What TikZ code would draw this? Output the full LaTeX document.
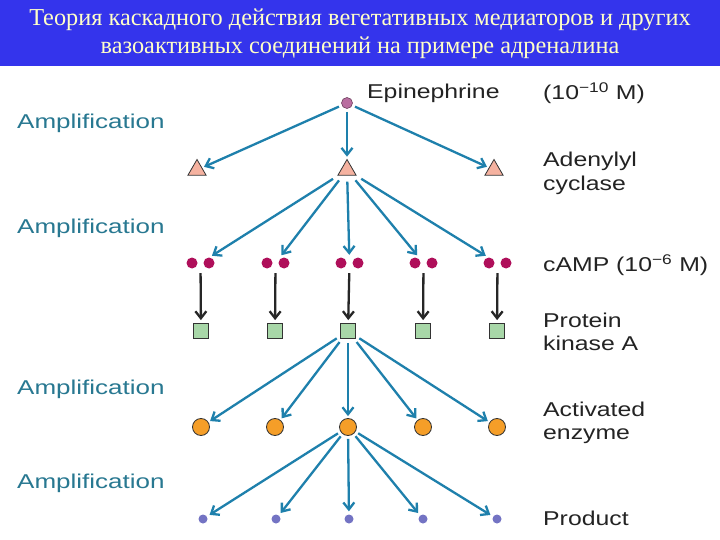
\documentclass[tikz,border=0pt]{standalone}
\usepackage{fontspec}
\setmainfont{Liberation Serif}
\newfontfamily\labfont[FakeStretch=1.24]{Liberation Sans}
\newfontfamily\ampfont[FakeStretch=1.3]{Liberation Sans}
\usetikzlibrary{arrows.meta,shapes.geometric}
\definecolor{titlebg}{RGB}{52,52,236}
\definecolor{titlefg}{RGB}{255,255,200}
\definecolor{arr}{RGB}{30,128,172}
\definecolor{ampl}{RGB}{40,120,145}
\definecolor{epic}{RGB}{185,110,160}
\definecolor{tric}{RGB}{245,178,160}
\definecolor{campc}{RGB}{175,15,90}
\definecolor{sqc}{RGB}{168,215,168}
\definecolor{orc}{RGB}{245,158,40}
\definecolor{prc}{RGB}{115,115,195}
\definecolor{txt}{RGB}{35,35,35}
\tikzset{
  tarrow/.style={draw=arr, line width=2.3pt, -{Straight Barb[length=7pt,width=11pt,line width=2.3pt]}, shorten >=2pt, shorten <=3pt},
  karrow/.style={draw=black!85, line width=2.3pt, -{Straight Barb[length=7pt,width=11pt,line width=2.3pt]}, shorten >=3pt, shorten <=2pt},
  epinode/.style={circle, fill=epic, draw=epic!60!black, line width=0.6pt, minimum size=11pt, inner sep=0pt},
  trinode/.style={regular polygon, regular polygon sides=3, fill=tric, draw=black!80, line width=0.8pt, minimum size=21pt, inner sep=0pt},
  campdot/.style={circle, fill=campc, minimum size=11pt, inner sep=0pt},
  camppair/.style={rectangle, minimum width=28pt, minimum height=12pt, inner sep=0pt},
  sqnode/.style={rectangle, fill=sqc, draw=black!80, line width=0.8pt, minimum size=15pt, inner sep=0pt},
  ornode/.style={circle, fill=orc, draw=black!80, line width=0.8pt, minimum size=17pt, inner sep=0pt},
  prnode/.style={circle, fill=prc, minimum size=9pt, inner sep=0pt},
  lab/.style={anchor=west, text=txt, font=\labfont\fontsize{20}{23.5}\selectfont, align=left, inner sep=0pt},
  amp/.style={anchor=west, text=ampl, font=\ampfont\fontsize{20}{23.5}\selectfont, inner sep=0pt},
  ttl/.style={text=titlefg, font=\fontsize{24.3}{28}\selectfont, inner sep=0pt}
}
\begin{document}
\begin{tikzpicture}[x=1pt,y=-1pt]
\useasboundingbox (0,0) rectangle (720,540);
\fill[white] (0,0) rectangle (720,540);
\fill[titlebg] (0,0) rectangle (720,66);
\node[ttl] (t1) at (360,20) {Теория каскадного действия вегетативных медиаторов и других};
\node[ttl] (t2) at (360,48) {вазоактивных соединений на примере адреналина};

% labels
\node[amp] (a1) at (17,123) {Amplification};
\node[amp] (a2) at (17,228) {Amplification};
\node[amp] (a3) at (17,389) {Amplification};
\node[amp] (a4) at (17,483) {Amplification};

\node[lab] (l0) at (367,93) {Epinephrine};
\node[lab] (l0b) at (543,93) {(10\textsuperscript{−10} M)};
\node[lab] (l1) at (543,173.5) {Adenylyl\\cyclase};
\node[lab] (l2) at (543,265) {cAMP (10\textsuperscript{−6} M)};
\node[lab] (l3) at (543,332) {Protein\\kinase A};
\node[lab] (l4) at (543,423) {Activated\\enzyme};
\node[lab] (l5) at (543,518) {Product};

% nodes
\node[epinode] (epi) at (347,103) {};
\node[trinode] (tr1) at (197,170) {};
\node[trinode] (tr2) at (347,170) {};
\node[trinode] (tr3) at (494,170) {};

\foreach \i/\x in {1/200.5,2/275.5,3/349.5,4/423.5,5/497.5}{
  \node[camppair] (c\i) at (\x,263) {};
  \node[campdot] (c\i a) at (\x-8.5,263) {};
  \node[campdot] (c\i b) at (\x+8.5,263) {};
  }
\foreach \i/\x in {1/201,2/275,3/348,4/423,5/497}{
  \node[sqnode] (s\i) at (\x,331) {};
  }
\foreach \i/\x in {1/201,2/275,3/348,4/423,5/497}{
  \node[ornode] (o\i) at (\x,427) {};
  }
\foreach \i/\x in {1/203,2/276,3/349,4/423,5/497}{
  \node[prnode] (p\i) at (\x,519) {};
  }

% connectors
\foreach \t in {tr1,tr2,tr3}{ \draw[tarrow] (epi) -- (\t); }
\foreach \i in {1,...,5}{ \draw[tarrow, shorten <=6pt] (tr2) -- (c\i); }
\foreach \i in {1,...,5}{ \draw[karrow, shorten <=4pt] (c\i) -- (s\i); }
\foreach \i in {1,...,5}{ \draw[tarrow, shorten <=4pt] (s3) -- (o\i); }
\foreach \i in {1,...,5}{ \draw[tarrow, shorten <=3pt, shorten >=3pt] (o3) -- (p\i); }
\end{tikzpicture}
\end{document}
